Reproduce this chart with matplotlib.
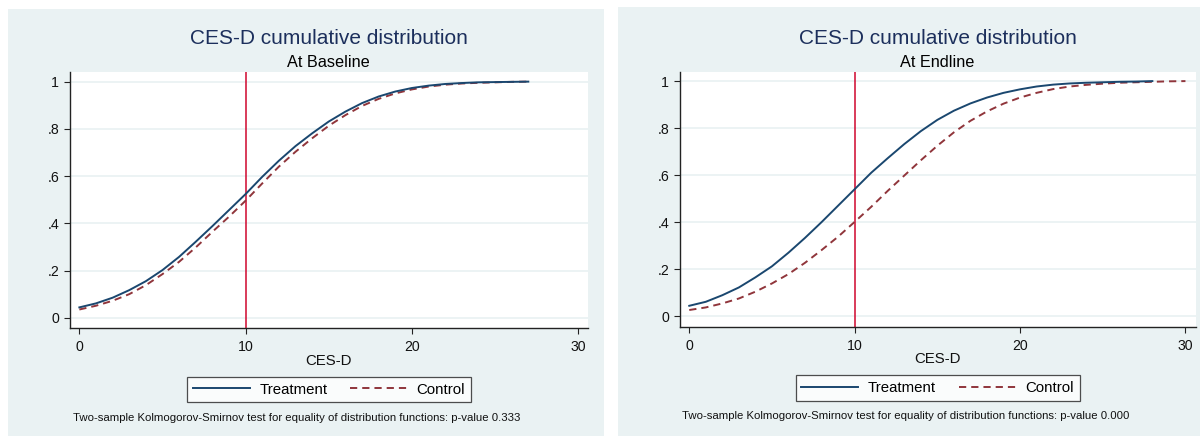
import numpy as np
import matplotlib
matplotlib.use("Agg")
import matplotlib.pyplot as plt
from matplotlib.patches import Rectangle

plt.rcParams['font.family'] = ['Liberation Sans', 'DejaVu Sans']
plt.rcParams['lines.scale_dashes'] = False

# ---------------------------------------------------------------------------
# data (CES-D score vs cumulative share)
# ---------------------------------------------------------------------------
base_x = [0, 1, 2, 3, 4, 5, 6, 7, 8, 9, 10, 11, 12, 13, 14, 15, 16, 17, 18, 19,
          20, 21, 22, 23, 24, 25, 26, 27]
base_treat = [0.044, 0.061, 0.085, 0.117, 0.155, 0.202, 0.258, 0.322, 0.388, 0.456,
              0.524, 0.597, 0.665, 0.727, 0.781, 0.831, 0.873, 0.909, 0.937, 0.958,
              0.973, 0.983, 0.990, 0.994, 0.997, 0.998, 0.999, 1.000]
base_ctrl = [0.035, 0.051, 0.072, 0.100, 0.138, 0.185, 0.237, 0.298, 0.364, 0.428,
             0.496, 0.569, 0.640, 0.703, 0.760, 0.813, 0.858, 0.897, 0.927, 0.950,
             0.967, 0.979, 0.987, 0.992, 0.995, 0.997, 0.999, 1.000]

end_x_treat = [0, 1, 2, 3, 4, 5, 6, 7, 8, 9, 10, 11, 12, 13, 14, 15, 16, 17, 18, 19,
               20, 21, 22, 23, 24, 25, 26, 27, 28]
end_treat = [0.044, 0.061, 0.089, 0.122, 0.165, 0.212, 0.270, 0.333, 0.400, 0.470,
             0.540, 0.610, 0.672, 0.732, 0.787, 0.835, 0.874, 0.905, 0.930, 0.950,
             0.965, 0.977, 0.985, 0.990, 0.993, 0.995, 0.997, 0.998, 1.000]
end_x_ctrl = [0, 1, 2, 3, 4, 5, 6, 7, 8, 9, 10, 11, 12, 13, 14, 15, 16, 17, 18, 19,
              20, 21, 22, 23, 24, 25, 26, 27, 28, 29, 30]
end_ctrl = [0.026, 0.037, 0.054, 0.075, 0.104, 0.139, 0.179, 0.227, 0.281, 0.338,
            0.401, 0.465, 0.533, 0.598, 0.663, 0.725, 0.782, 0.831, 0.871, 0.904,
            0.930, 0.950, 0.966, 0.977, 0.984, 0.989, 0.993, 0.995, 0.997, 0.999, 1.000]

cutoff = 10
x_ticks = [0, 10, 20, 30]
y_ticks = [0, 0.2, 0.4, 0.6, 0.8, 1.0]
y_ticklabels = ['0', '.2', '.4', '.6', '.8', '1']

title = 'CES-D cumulative distribution'
subtitles = ['At Baseline', 'At Endline']
pvalues = ['0.333', '0.000']

# colours (Stata s2color look)
BG = '#eaf2f3'
NAVY = '#1a476f'
MAROON = '#90353b'
RED = '#d0062e'
TITLE_C = '#1c2f5c'

W, H = 1200, 436


def fx(px):
    return px / W


def fy(py):
    return 1 - py / H


fig = plt.figure(figsize=(W / 100, H / 100), dpi=100)
fig.patch.set_facecolor('white')

# panel geometry in pixels: bg box, plot box, axis limits, text rows
panels = [
    dict(bg=(8, 9, 604), box=(69.7, 71.7, 588, 327.7), xlim=(-0.58, 30.59),
         ylim=(-0.042, 1.042), tx=(base_x, base_treat), cx=(base_x, base_ctrl),
         xlab_y=365, leg_y=389.5, note_y=420.5, note_x=72.7),
    dict(bg=(618.3, 7.3, 1200), box=(679.5, 71.7, 1195.7, 326.7), xlim=(-0.59, 30.62),
         ylim=(-0.045, 1.04), tx=(end_x_treat, end_treat), cx=(end_x_ctrl, end_ctrl),
         xlab_y=363, leg_y=388, note_y=419, note_x=682.3),
]

for i, p in enumerate(panels):
    bx0, by0, bx1 = p['bg']
    fig.patches.append(Rectangle((fx(bx0), 0), fx(bx1) - fx(bx0), fy(by0),
                                 transform=fig.transFigure, facecolor=BG,
                                 edgecolor='none', zorder=-10))

    l, t, r, b = p['box']
    ax = fig.add_axes([fx(l), fy(b), fx(r) - fx(l), fy(t) - fy(b)])
    ax.set_zorder(1)
    ax.set_facecolor('white')
    ax.set_xlim(*p['xlim'])
    ax.set_ylim(*p['ylim'])

    for yv in y_ticks:
        ax.axhline(yv, color=BG, lw=1.3, zorder=1)

    ax.axvline(cutoff, color=RED, lw=1.1, zorder=2)
    ax.plot(p['tx'][0], p['tx'][1], color=NAVY, lw=1.4, label='Treatment', zorder=4)
    ax.plot(p['cx'][0], p['cx'][1], color=MAROON, lw=1.4, dashes=(5.2, 3.6),
            label='Control', zorder=3)

    ax.set_xticks(x_ticks)
    ax.set_xticklabels([str(v) for v in x_ticks])
    ax.set_yticks(y_ticks)
    ax.set_yticklabels(y_ticklabels)
    ax.tick_params(axis='both', length=4.3, width=0.8, color='#222222',
                   labelsize=10.2, labelcolor='#111111')
    ax.tick_params(axis='x', pad=4.5)
    ax.tick_params(axis='y', pad=3.2)

    for side in ['top', 'right']:
        ax.spines[side].set_visible(False)
    for side in ['left', 'bottom']:
        ax.spines[side].set_color('#222222')
        ax.spines[side].set_linewidth(1.0)

    cx = (l + r) / 2
    fig.text(fx(cx), fy(44), title, ha='center', va='baseline',
             fontsize=15, color=TITLE_C)
    fig.text(fx(cx), fy(66.7), subtitles[i], ha='center', va='baseline',
             fontsize=11.7, color='black')
    fig.text(fx(cx), fy(p['xlab_y']), 'CES-D', ha='center', va='baseline',
             fontsize=10.8, color='#111111')

    leg = ax.legend(loc='center', bbox_to_anchor=(fx(cx), fy(p['leg_y'])),
                    bbox_transform=fig.transFigure, ncol=2, fontsize=10.8,
                    frameon=True, fancybox=False, handlelength=3.8,
                    handletextpad=0.65, columnspacing=1.5, borderpad=0.38)
    leg.get_frame().set_edgecolor('#222222')
    leg.get_frame().set_linewidth(0.9)
    leg.get_frame().set_facecolor('white')

    fig.text(fx(p['note_x']), fy(p['note_y']),
             'Two-sample Kolmogorov-Smirnov test for equality of distribution '
             'functions: p-value ' + pvalues[i],
             ha='left', va='baseline', fontsize=8.2, color='#111111')

fig.savefig('out.png', dpi=100, facecolor='white')
